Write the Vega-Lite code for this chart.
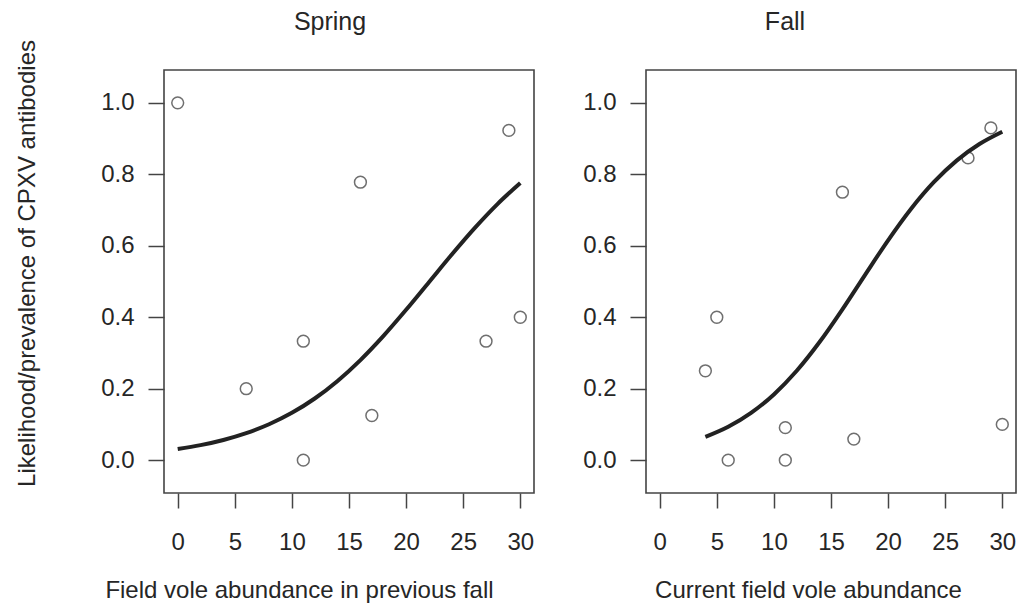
{
  "$schema": "https://vega.github.io/schema/vega-lite/v6.json",
  "background": "white",
  "padding": {"left": 14, "top": 8, "right": 0, "bottom": 0},
  "spacing": 46,
  "datasets": {
    "springPts": [
      {"x": 0, "y": 1.0}, {"x": 6, "y": 0.2}, {"x": 11, "y": 0.333}, {"x": 11, "y": 0.0},
      {"x": 16, "y": 0.778}, {"x": 17, "y": 0.125}, {"x": 27, "y": 0.333}, {"x": 29, "y": 0.923}, {"x": 30, "y": 0.4}
    ],
    "fallPts": [
      {"x": 4, "y": 0.25}, {"x": 5, "y": 0.4}, {"x": 6, "y": 0.0}, {"x": 11, "y": 0.0909}, {"x": 11, "y": 0.0},
      {"x": 16, "y": 0.75}, {"x": 17, "y": 0.0588}, {"x": 27, "y": 0.846}, {"x": 29, "y": 0.93}, {"x": 30, "y": 0.1}
    ],
    "springCurve": [
      {"x": 0, "y": 0.0311}, {"x": 2, "y": 0.042}, {"x": 4, "y": 0.0565}, {"x": 6, "y": 0.0756},
      {"x": 8, "y": 0.1005}, {"x": 10, "y": 0.1324}, {"x": 12, "y": 0.1725}, {"x": 14, "y": 0.2217},
      {"x": 16, "y": 0.2801}, {"x": 18, "y": 0.3471}, {"x": 20, "y": 0.4207}, {"x": 22, "y": 0.498},
      {"x": 24, "y": 0.5754}, {"x": 26, "y": 0.6493}, {"x": 28, "y": 0.7167}, {"x": 30, "y": 0.7755}
    ],
    "fallCurve": [
      {"x": 4, "y": 0.065}, {"x": 6, "y": 0.0933}, {"x": 8, "y": 0.1322}, {"x": 10, "y": 0.1839},
      {"x": 12, "y": 0.2501}, {"x": 14, "y": 0.3305}, {"x": 16, "y": 0.4221}, {"x": 18, "y": 0.5195},
      {"x": 20, "y": 0.6154}, {"x": 22, "y": 0.7031}, {"x": 24, "y": 0.778}, {"x": 26, "y": 0.8384},
      {"x": 28, "y": 0.8847}, {"x": 30, "y": 0.9191}
    ]
  },
  "hconcat": [
    {
      "width": 370, "height": 423,
      "title": {"text": "Spring", "dx": -19, "offset": 5},
      "layer": [
        {
          "data": {"name": "springPts"},
          "mark": {"type": "point", "shape": "circle", "filled": false, "size": 140, "strokeWidth": 1.5, "color": "#333"},
          "encoding": {
            "x": {"field": "x", "type": "quantitative", "scale": {"domain": [-1.2, 31.2], "nice": false, "zero": false},
                  "axis": {"values": [0, 5, 10, 15, 20, 25, 30], "title": "Field vole abundance in previous fall", "titleX": 135}},
            "y": {"field": "y", "type": "quantitative", "scale": {"domain": [-0.092, 1.092], "nice": false, "zero": false},
                  "axis": {"values": [0, 0.2, 0.4, 0.6, 0.8, 1.0], "format": ".1f", "title": "Likelihood/prevalence of CPXV antibodies", "titleY": 193, "titlePadding": 61}}
          }
        },
        {
          "data": {"name": "springCurve"},
          "mark": {"type": "line", "interpolate": "monotone", "strokeWidth": 4, "color": "#222"},
          "encoding": {
            "x": {"field": "x", "type": "quantitative"},
            "y": {"field": "y", "type": "quantitative"}
          }
        }
      ]
    },
    {
      "width": 370, "height": 423,
      "title": {"text": "Fall", "dx": -46, "offset": 35},
      "layer": [
        {
          "data": {"name": "fallPts"},
          "mark": {"type": "point", "shape": "circle", "filled": false, "size": 140, "strokeWidth": 1.5, "color": "#333"},
          "encoding": {
            "x": {"field": "x", "type": "quantitative", "scale": {"domain": [-1.2, 31.2], "nice": false, "zero": false},
                  "axis": {"values": [0, 5, 10, 15, 20, 25, 30], "title": "Current field vole abundance", "titleX": 162}},
            "y": {"field": "y", "type": "quantitative", "scale": {"domain": [-0.092, 1.092], "nice": false, "zero": false},
                  "axis": {"values": [0, 0.2, 0.4, 0.6, 0.8, 1.0], "format": ".1f", "title": null}}
          }
        },
        {
          "data": {"name": "fallCurve"},
          "mark": {"type": "line", "interpolate": "monotone", "strokeWidth": 4, "color": "#222"},
          "encoding": {
            "x": {"field": "x", "type": "quantitative"},
            "y": {"field": "y", "type": "quantitative"}
          }
        }
      ]
    }
  ],
  "config": {
    "font": "Liberation Sans",
    "view": {"stroke": "#444", "strokeWidth": 1.6},
    "axis": {
      "grid": false, "domain": false,
      "tickColor": "#444", "tickWidth": 1.5, "tickSize": 15,
      "labelFont": "Liberation Sans", "labelFontSize": 24, "labelColor": "#262626",
      "labelFlush": false, "labelOverlap": false,
      "titleFont": "Liberation Sans", "titleFontSize": 24, "titleFontWeight": "normal", "titleColor": "#262626"
    },
    "axisX": {"labelPadding": 22, "titlePadding": 24},
    "axisY": {"labelPadding": 14, "tickSize": 16},
    "title": {"font": "Liberation Sans", "fontSize": 25, "fontWeight": "normal", "color": "#262626"}
  }
}
